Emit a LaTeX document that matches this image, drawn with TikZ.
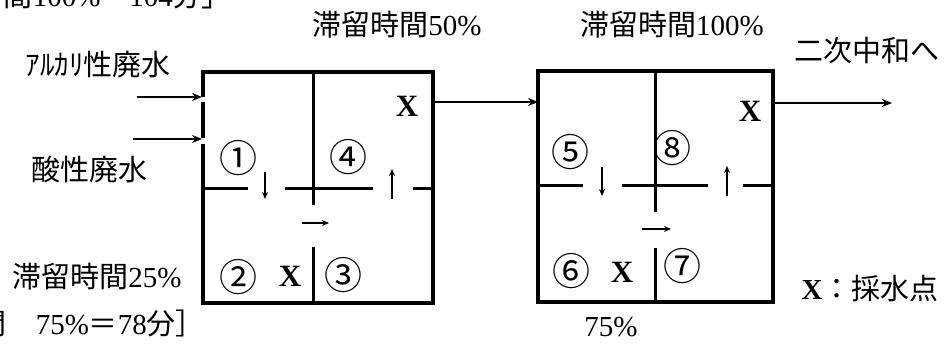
\documentclass[tikz,border=0pt]{standalone}
\usepackage{fontspec}
\setmainfont{Liberation Serif}
\newfontfamily\cjk{Noto Sans CJK JP}
\usetikzlibrary{arrows.meta}
\begin{document}
\begin{tikzpicture}[x=1pt,y=-1pt,
  every node/.style={inner sep=0pt,outer sep=0pt,font=\fontsize{28}{30}\selectfont},
  wall/.style={line width=3.4pt,line cap=rect},
  part/.style={line width=3.0pt},
  flow/.style={line width=2.6pt,-{Stealth[length=10pt,width=8pt]}},
  small/.style={line width=1.6pt,-{Stealth[length=7pt,width=6pt]}},
  lbl/.style={font=\fontsize{29}{30}\selectfont},
  circ/.style={font=\fontsize{38}{40}\selectfont\cjk},
  xmark/.style={font=\fontsize{31}{32}\selectfont\bfseries}]
\useasboundingbox (0,0) rectangle (950,350);
\begin{scope}
\clip (0,0) rectangle (950,350);
% clipped remnants of text lines
\node[lbl,anchor=base east] (topline) at (231,7) {{\cjk 滞留時間}100\%{\cjk ＝}104{\cjk 分」}};
\node[lbl,anchor=base east] (botline) at (205,334) {{\cjk 滞留時間　}75\%{\cjk ＝}78{\cjk 分］}};
\end{scope}
% ---------- box 1 ----------
\draw[wall] (203,72) -- (433,72) -- (433,303) -- (203,303);
\draw[wall] (203,72) -- (203,95);
\draw[wall] (203,104) -- (203,136);
\draw[wall] (203,146) -- (203,303);
\draw[part] (313,72) -- (313,205);
\draw[part] (313,247) -- (313,303);
\draw[part] (203,188) -- (248,188);
\draw[part] (285,188) -- (373,188);
\draw[part] (413,188) -- (433,188);
% ---------- box 2 ----------
\draw[wall] (538,71) rectangle (773,302);
\draw[part] (655,71) -- (655,212);
\draw[part] (655,248) -- (655,302);
\draw[part] (538,185) -- (583,185);
\draw[part] (622,185) -- (708,185);
\draw[part] (743,185) -- (773,185);
% ---------- coordinates ----------
\coordinate (in1s) at (137,97);
\coordinate (in1e) at (202,97);
\coordinate (in2s) at (133,139);
\coordinate (in2e) at (202,139);
\coordinate (b1out) at (435,102);
\coordinate (b2in) at (538,102);
\coordinate (b2out) at (775,103);
\coordinate (fin) at (892,103);
\coordinate (d1s) at (265,172); \coordinate (d1e) at (265,199);
\coordinate (u1s) at (392,199); \coordinate (u1e) at (392,169);
\coordinate (r1s) at (302,223); \coordinate (r1e) at (329,223);
\coordinate (d2s) at (602,167); \coordinate (d2e) at (602,196);
\coordinate (u2s) at (727,196); \coordinate (u2e) at (727,166);
\coordinate (r2s) at (642,229); \coordinate (r2e) at (671,229);
% ---------- arrows ----------
\draw[flow] (in1s) -- (in1e);
\draw[flow] (in2s) -- (in2e);
\draw[flow] (b1out) -- (b2in);
\draw[flow] (b2out) -- (fin);
\draw[small] (d1s) -- (d1e);
\draw[small] (u1s) -- (u1e);
\draw[small] (r1s) -- (r1e);
\draw[small] (d2s) -- (d2e);
\draw[small] (u2s) -- (u2e);
\draw[small] (r2s) -- (r2e);
% ---------- labels ----------
\node[lbl] (t50) at (397,25) {{\cjk 滞留時間}50\%};
\node[lbl] (t100) at (672,25) {{\cjk 滞留時間}100\%};
\node[lbl,font=\fontsize{29}{30}\selectfont\cjk] (next) at (867,50) {二次中和へ};
\node[lbl,font=\fontsize{29}{30}\selectfont\cjk] (alk) at (98,65) {ｱﾙｶﾘ性廃水};
\node[lbl,font=\fontsize{29}{30}\selectfont\cjk] (acid) at (89,170) {酸性廃水};
\node[lbl] (t25) at (97,277) {{\cjk 滞留時間}25\%};
\node[lbl] (leg) at (870,288) {{\bfseries X}{\cjk ：採水点}};
\node[lbl] (t75) at (611,327) {75\%};
\node[xmark] (x1) at (407,106) {X};
\node[xmark] (x2) at (290,276) {X};
\node[xmark] (x3) at (750,111) {X};
\node[xmark] (x4) at (622,272) {X};
\node[circ] (c1) at (238,158) {①};
\node[circ] (c2) at (238,277) {②};
\node[circ] (c3) at (343,275) {③};
\node[circ] (c4) at (348,157) {④};
\node[circ] (c5) at (570,152) {⑤};
\node[circ] (c6) at (571,271) {⑥};
\node[circ] (c7) at (682,266) {⑦};
\node[circ] (c8) at (672,148) {⑧};
\end{tikzpicture}
\end{document}
